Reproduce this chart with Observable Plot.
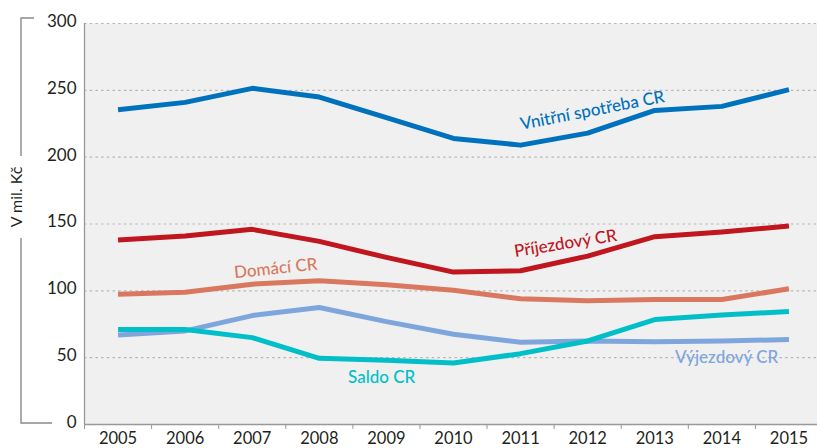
<!DOCTYPE html>
<html><head><meta charset="utf-8">
<script src="https://cdn.jsdelivr.net/npm/d3@7"></script>
<script src="https://cdn.jsdelivr.net/npm/@observablehq/plot@0.6"></script>
<style>html,body{margin:0;padding:0;background:#fff;} svg{display:block}</style>
</head><body><div id="chart"></div>
<script>
const years = [2005, 2006, 2007, 2008, 2009, 2010, 2011, 2012, 2013, 2014, 2015];
const vnitrni    = [235.5, 241, 251.5, 245, 229.5, 214, 209, 218, 235, 238, 250.5];
const prijezdovy = [138, 141, 146, 137, 125, 114, 115, 126, 140.5, 144, 148.5];
const domaci     = [97.5, 99, 105, 107.5, 104.5, 100.5, 94, 92.5, 93.5, 93.5, 101.5];
const vyjezdovy  = [67, 70, 81.5, 87.5, 77, 67.5, 61.5, 62.5, 62, 62.5, 63.5];
const saldo      = [71, 71, 65, 49.5, 48, 46, 53, 62.5, 78.5, 82, 84.5];
const seriesNames = ["Vnitřní spotřeba CR", "Příjezdový CR", "Domácí CR", "Výjezdový CR", "Saldo CR"];
const seriesValues = [vnitrni, prijezdovy, domaci, vyjezdovy, saldo];
const seriesColors = ["#0071bd", "#c0161f", "#d9785f", "#7fa6dc", "#00bfc8"];
const yTicks = [0, 50, 100, 150, 200, 250, 300];
const yTitle = "V mil. Kč";
// label anchors in data space (x = year, y = value) and rotation
const labelX = [2012.07, 2011.67, 2007.35, 2014.07, 2008.93];
const labelY = [234.9, 135.4, 116.7, 50.1, 35.2];
const labelRotate = [-11, -9, -6, 0, 0];

const table = [];
seriesNames.forEach((s, i) => years.forEach((yr, j) => table.push({series: s, year: yr, value: seriesValues[i][j]})));
const labels = seriesNames.map((s, i) => ({series: s, x: labelX[i], y: labelY[i], rotate: labelRotate[i]}));
const boundaries = years.map(y => y - 0.5).concat([years[years.length - 1] + 0.5]);

const plot = Plot.plot({
  width: 817, height: 448,
  marginLeft: 84, marginRight: 0, marginTop: 23, marginBottom: 24,
  style: {fontFamily: "Lato, 'Open Sans', sans-serif", fontSize: "17px", background: "white", overflow: "visible", color: "#231f20"},
  x: {domain: [2004.5, 2015.5], range: [84, 822]},
  y: {domain: [0, 300], range: [424, 23]},
  color: {domain: seriesNames, range: seriesColors},
  marks: [
    Plot.frame({fill: "#f0f0f0", stroke: null}),
    Plot.ruleY(yTicks.filter(d => d > 0), {stroke: "#b5b5b5", strokeDasharray: "2.5,3.2", strokeWidth: 1.2}),
    Plot.axisY({ticks: yTicks, tickSize: 0, tickPadding: 8, label: null, fontSize: 17, dy: -2}),
    Plot.axisX({ticks: years, tickSize: 0, tickPadding: 8, tickFormat: d => String(d), label: null, fontSize: 16.5}),
    Plot.axisX({ticks: boundaries, tickSize: 5, tickFormat: () => "", label: null, stroke: "#999"}),
    Plot.ruleX([2004.5], {stroke: "#999", strokeWidth: 1.3}),
    Plot.ruleY([0], {stroke: "#999", strokeWidth: 1.3}),
    Plot.line(table, {x: "year", y: "value", z: "series", stroke: "series", strokeWidth: 5, strokeLinejoin: "round", strokeLinecap: "butt"}),
    Plot.text(labels, {x: "x", y: "y", text: "series", fill: "series", rotate: "rotate", fontSize: 17, textAnchor: "middle", lineAnchor: "middle", fontWeight: 500})
  ]
});
document.getElementById("chart").appendChild(plot);

const svg = d3.select(plot);
svg.append("path")
  .attr("d", "M34,18H21V156M21,238V423H52")
  .attr("fill", "none").attr("stroke", "#8a8a8a").attr("stroke-width", 1.4);
svg.append("text")
  .attr("transform", "translate(18,197) rotate(-90)")
  .attr("text-anchor", "middle").attr("dominant-baseline", "middle")
  .attr("font-size", 16).attr("fill", "#231f20")
  .text(yTitle);
</script>
</body></html>
